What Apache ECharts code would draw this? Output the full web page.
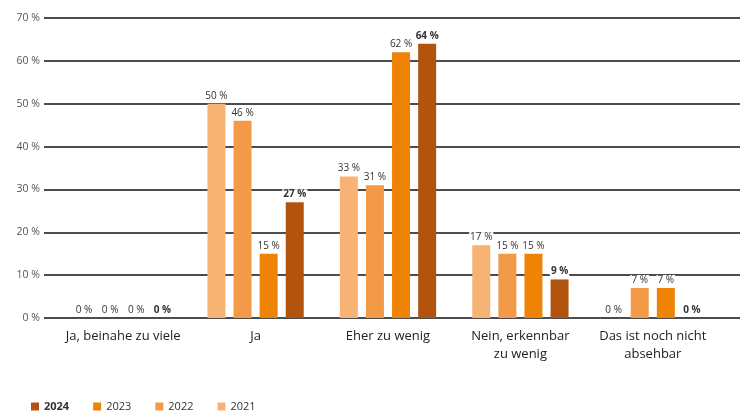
<!DOCTYPE html>
<html><head><meta charset="utf-8">
<script src="https://cdn.jsdelivr.net/npm/echarts@6/dist/echarts.min.js"></script>
<style>html,body{margin:0;padding:0;background:#fff}#c{width:744px;height:413px}</style>
</head><body><div id="c"></div>
<script>
const categories = ['Ja, beinahe zu viele', 'Ja', 'Eher zu wenig', 'Nein, erkennbar\nzu wenig', 'Das ist noch nicht\nabsehbar'];
const years = ['2021', '2022', '2023', '2024'];
const v2021 = [0, 50, 33, 17, 0];
const v2022 = [0, 46, 31, 15, 7];
const v2023 = [0, 15, 62, 15, 7];
const v2024 = [0, 27, 64, 9, 0];
const yTicks = [0, 10, 20, 30, 40, 50, 60, 70];

const colors = {'2021': '#f6b374', '2022': '#f29a48', '2023': '#ee8306', '2024': '#b3540e'};
const values = {'2021': v2021, '2022': v2022, '2023': v2023, '2024': v2024};
const FONT = 'Open Sans';

const chart = echarts.init(document.getElementById('c'), null, {renderer: 'canvas'});
const series = years.map(y => ({
  name: y, type: 'bar', xAxisIndex: 1, yAxisIndex: 1,
  data: values[y], barWidth: 18, barGap: '45%',
  itemStyle: {color: colors[y]},
  label: {
    show: true, position: 'top', distance: 3,
    formatter: p => p.value + ' %',
    fontFamily: FONT, fontSize: 10, color: '#333',
    fontWeight: y === '2024' ? 'bold' : 'normal',
    backgroundColor: '#fff', padding: [0, 1]
  }
}));

chart.setOption({
  animation: false,
  textStyle: {fontFamily: FONT},
  grid: [
    {left: 44, right: 4, top: 18, bottom: 95},
    {left: 57, right: 25, top: 18, bottom: 95}
  ],
  legend: {
    left: 26, top: 396, itemWidth: 8, itemHeight: 8, itemGap: 24, icon: 'rect',
    data: ['2024', '2023', '2022', '2021'],
    formatter: n => n === '2024' ? '{b|' + n + '}' : n,
    textStyle: {fontFamily: FONT, fontSize: 11, color: '#333', rich: {b: {fontWeight: 'bold', fontSize: 11, fontFamily: FONT}}}
  },
  xAxis: [
    {gridIndex: 0, type: 'category', data: categories, show: false},
    {gridIndex: 1, type: 'category', data: categories,
     axisLine: {show: false}, axisTick: {show: false},
     axisLabel: {fontFamily: FONT, fontSize: 13, color: '#222', margin: 9, lineHeight: 18, interval: 0}}
  ],
  yAxis: [
    {gridIndex: 0, type: 'value', min: yTicks[0], max: yTicks[yTicks.length - 1], interval: 10,
     axisLine: {show: false}, axisTick: {show: false},
     axisLabel: {formatter: '{value} %', fontFamily: FONT, fontSize: 10.5, color: '#555', margin: 4},
     splitLine: {show: true, lineStyle: {color: '#111', width: 1.5}}},
    {gridIndex: 1, type: 'value', min: 0, max: 70, interval: 10, show: false, splitLine: {show: false}}
  ],
  series: series
});
</script></body></html>
